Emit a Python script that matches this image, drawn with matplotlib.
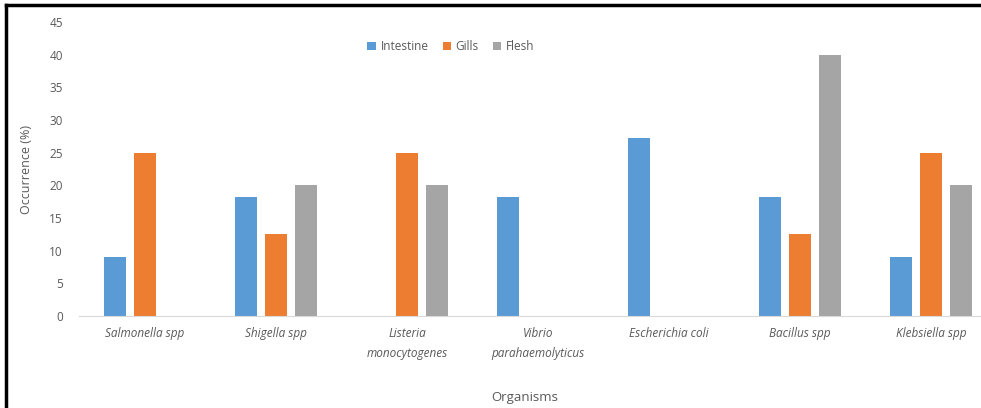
import numpy as np
import matplotlib
matplotlib.use('Agg')
import matplotlib.pyplot as plt
from matplotlib.lines import Line2D

# dados
organismos = ['Salmonella spp', 'Shigella spp', 'Listeria\nmonocytogenes',
              'Vibrio\nparahaemolyticus', 'Escherichia coli', 'Bacillus spp',
              'Klebsiella spp']
intestine = [9.1, 18.2, 0, 18.2, 27.3, 18.2, 9.1]
gills = [25, 12.5, 25, 0, 0, 12.5, 25]
flesh = [0, 20, 20, 0, 0, 40, 20]
series = ['Intestine', 'Gills', 'Flesh']
cores = ['#5B9BD5', '#ED7D31', '#A5A5A5']

plt.rcParams['font.family'] = ['Open Sans', 'DejaVu Sans']
texto = '#595959'

fig = plt.figure(figsize=(9.81, 4.08), dpi=100)
ax = fig.add_axes([0.081, 0.2255, 0.935, 0.7205])

x = np.arange(len(organismos))
larg = 0.168
passo = 0.229
for i, (vals, nome) in enumerate(zip([intestine, gills, flesh], series)):
    ax.bar(x + (i - 1) * passo, vals, width=larg, color=cores[i], label=nome)

ax.set_xlim(-0.5, 6.5)
ax.set_ylim(0, 45)
ax.set_yticks(range(0, 50, 5))
ax.set_xticks(x)
ax.set_xticklabels(organismos, style='italic', fontsize=8.5, color=texto,
                   linespacing=1.7)
ax.tick_params(axis='both', length=0, colors=texto, labelsize=8.5)
ax.tick_params(axis='x', pad=8)
ax.tick_params(axis='y', pad=12)
for s in ['top', 'right', 'left']:
    ax.spines[s].set_visible(False)
ax.spines['bottom'].set_color('#D9D9D9')

ax.set_ylabel('Occurrence (%)', fontsize=9, color=texto, labelpad=12)
fig.text(0.535, 0.018, 'Organisms', ha='center', fontsize=9.5, color=texto)

ax.legend(loc='upper center', bbox_to_anchor=(0.405, 0.975), ncol=3,
          frameon=False, fontsize=8.5, handlelength=0.7, handleheight=0.7,
          columnspacing=1.2, handletextpad=0.4, labelcolor=texto)

# moldura preta
fig.add_artist(Line2D([0.006, 1.0], [0.988, 0.988], color='black', lw=2.5))
fig.add_artist(Line2D([0.006, 0.006], [0.0, 0.988], color='black', lw=2.5))

fig.savefig('out.png', dpi=100)
